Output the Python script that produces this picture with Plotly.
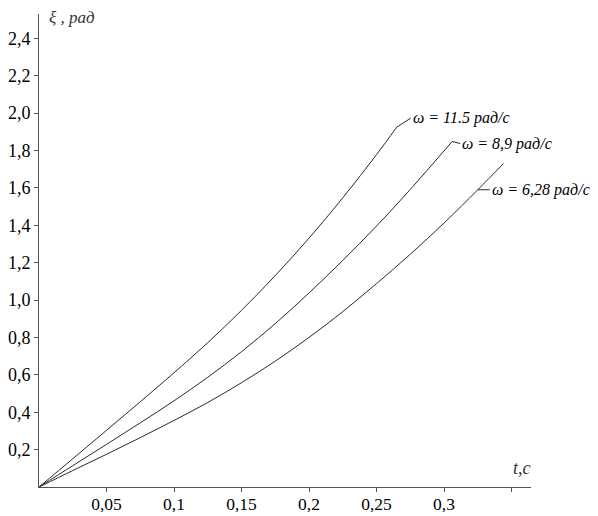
import plotly.graph_objects as go

# --- data ---
t_115 = [0, 0.025, 0.05, 0.075, 0.1, 0.125, 0.15, 0.175, 0.2, 0.225, 0.25, 0.265]
xi_115 = [0, 0.151, 0.303, 0.456, 0.611, 0.772, 0.945, 1.131, 1.331, 1.547, 1.778, 1.925]

t_89 = [0, 0.025, 0.05, 0.075, 0.1, 0.125, 0.15, 0.175, 0.2, 0.225, 0.25, 0.275, 0.306]
xi_89 = [0, 0.114, 0.228, 0.343, 0.461, 0.587, 0.724, 0.874, 1.038, 1.212, 1.396, 1.592, 1.848]

t_628 = [0, 0.025, 0.05, 0.075, 0.1, 0.125, 0.15, 0.175, 0.2, 0.225, 0.25, 0.275, 0.3, 0.325, 0.344]
xi_628 = [0, 0.088, 0.175, 0.264, 0.356, 0.452, 0.558, 0.673, 0.80, 0.938, 1.088, 1.245, 1.412, 1.59, 1.73]

labels = ["ω = 11.5 рад/с", "ω = 8,9 рад/с", "ω = 6,28 рад/с"]

x_tickvals = [0.05, 0.1, 0.15, 0.2, 0.25, 0.3, 0.35]
x_ticktext = ["0,05", "0,1", "0,15", "0,2", "0,25", "0,3", ""]
y_tickvals = [0.2, 0.4, 0.6, 0.8, 1.0, 1.2, 1.4, 1.6, 1.8, 2.0, 2.2, 2.4]
y_ticktext = ["0,2", "0,4", "0,6", "0,8", "1,0", "1,2", "1,4", "1,6", "1,8", "2,0", "2,2", "2,4"]

FONT = "Liberation Serif"
LINE = "#2a2a2a"

fig = go.Figure()
for tt, yy in [(t_115, xi_115), (t_89, xi_89), (t_628, xi_628)]:
    fig.add_trace(go.Scatter(x=tt, y=yy, mode="lines",
                             line=dict(color=LINE, width=1, shape="spline", smoothing=1.0),
                             showlegend=False, hoverinfo="skip"))

# curve labels with leader lines
ann_specs = [
    (t_115[-1], xi_115[-1], labels[0], 14, -9),
    (t_89[-1], xi_89[-1], labels[1], 8, 2),
    (t_628[-2], xi_628[-2], labels[2], 12, 0),
]
for ax_, ay_, txt, dx, dy in ann_specs:
    fig.add_annotation(x=ax_, y=ay_, text="<i>" + txt + "</i>", showarrow=True, arrowhead=0,
                       arrowwidth=1, arrowcolor=LINE, ax=dx, ay=dy,
                       xanchor="left", yanchor="middle",
                       font=dict(family=FONT, size=16, color="black"))

# axis titles
fig.add_annotation(x=0, y=1, xref="paper", yref="paper", text="<i>ξ , рад</i>",
                   showarrow=False, xanchor="left", yanchor="middle", xshift=8, yshift=-3,
                   font=dict(family=FONT, size=17, color="#333"))
fig.add_annotation(x=1, y=0, xref="paper", yref="paper", text="<i>t,c</i>",
                   showarrow=False, xanchor="right", yanchor="bottom", xshift=2, yshift=7,
                   font=dict(family=FONT, size=18, color="#333"))

fig.update_layout(
    width=598, height=516,
    margin=dict(l=39, r=67, t=14, b=29),
    paper_bgcolor="white", plot_bgcolor="white",
    font=dict(family=FONT, size=18, color="black"),
    xaxis=dict(range=[0, 0.3644], showgrid=False, zeroline=False,
               showline=True, linecolor="#555", linewidth=1,
               ticks="outside", ticklen=4, tickcolor="#555",
               tickvals=x_tickvals, ticktext=x_ticktext, automargin=False,
               ticklabelstandoff=-3, tickfont=dict(size=17.5)),
    yaxis=dict(range=[0, 2.53], showgrid=False, zeroline=False,
               showline=True, linecolor="#555", linewidth=1,
               ticks="outside", ticklen=4, tickcolor="#555",
               tickvals=y_tickvals, ticktext=y_ticktext, automargin=False),
)

fig.write_html("out.html", config={"displayModeBar": False},
               post_script="document.body.style.margin='0';")
